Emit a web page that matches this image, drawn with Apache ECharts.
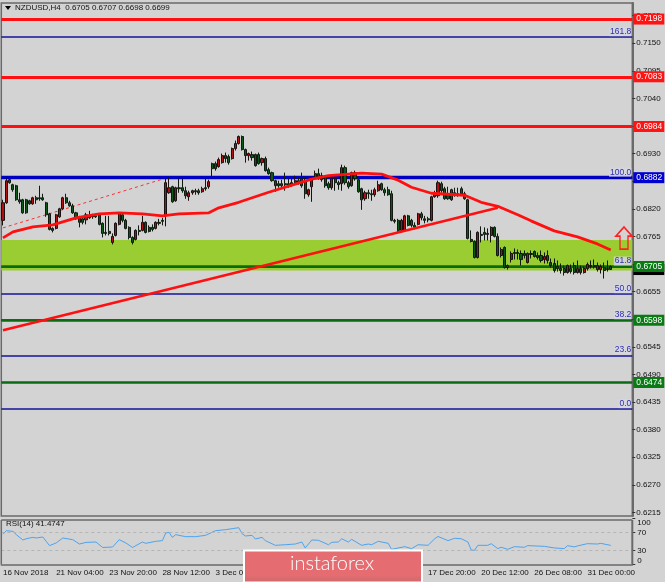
<!DOCTYPE html>
<html><head><meta charset="utf-8">
<style>html,body{margin:0;padding:0;background:#d3d3d3}#c{width:665px;height:582px}</style>
<script src="https://cdn.jsdelivr.net/npm/echarts@6/dist/echarts.min.js"></script>
</head><body><div id="c"></div>
<script>
// open, close, low, high
const candleRows=[
[.6797,.6832,.6787,.6838],[.6832,.6876,.6830,.6880],[.6878,.6872,.6870,.6880],[.6868,.6858,.6854,.6870],[.6866,.6838,.6836,.6868],[.6838,.6834,.6830,.6852],[.6838,.6812,.6810,.6840],[.6838,.6812,.6810,.6840],[.6836,.6830,.6828,.6838],[.6830,.6842,.6828,.6844],
[.6842,.6838,.6830,.6846],[.6842,.6840,.6836,.6866],[.6842,.6838,.6836,.6850],[.6832,.6808,.6804,.6834],[.6810,.6779,.6777,.6812],[.6781,.6777,.6773,.6783],[.6781,.6808,.6779,.6810],[.6804,.6820,.6802,.6822],[.6820,.6842,.6818,.6844],[.6842,.6832,.6830,.6850],
[.6832,.6826,.6824,.6836],[.6826,.6812,.6810,.6830],[.6812,.6800,.6798,.6814],[.6802,.6793,.6783,.6806],[.6800,.6793,.6789,.6802],[.6798,.6808,.6789,.6812],[.6806,.6802,.6800,.6816],[.6806,.6804,.6800,.6810],[.6806,.6804,.6802,.6810],[.6808,.6789,.6787,.6810],
[.6791,.6771,.6763,.6793],[.6773,.6771,.6767,.6806],[.6775,.6771,.6767,.6806],[.6753,.6765,.6749,.6771],[.6767,.6791,.6765,.6793],[.6789,.6810,.6787,.6812],[.6808,.6797,.6793,.6812],[.6797,.6781,.6779,.6800],[.6783,.6763,.6759,.6785],[.6763,.6753,.6749,.6765],
[.6759,.6777,.6757,.6779],[.6777,.6775,.6767,.6787],[.6777,.6793,.6775,.6806],[.6793,.6773,.6771,.6795],[.6783,.6775,.6773,.6787],[.6783,.6779,.6775,.6789],[.6781,.6793,.6779,.6795],[.6793,.6791,.6787,.6800],[.6797,.6795,.6787,.6802],[.6806,.6872,.6785,.6882],
[.6852,.6862,.6850,.6882],[.6864,.6834,.6832,.6866],[.6836,.6862,.6834,.6864],[.6862,.6860,.6852,.6880],[.6862,.6856,.6852,.6880],[.6856,.6846,.6840,.6864],[.6844,.6852,.6836,.6856],[.6852,.6856,.6848,.6858],[.6856,.6854,.6848,.6860],[.6856,.6852,.6848,.6860],
[.6854,.6860,.6852,.6864],[.6862,.6860,.6856,.6880],[.6864,.6874,.6860,.6878],[.6910,.6900,.6884,.6912],[.6910,.6900,.6896,.6914],[.6904,.6918,.6902,.6922],[.6912,.6926,.6910,.6930],[.6926,.6920,.6912,.6932],[.6924,.6912,.6908,.6928],[.6920,.6940,.6918,.6942],
[.6940,.6950,.6936,.6956],[.6950,.6964,.6948,.6966],[.6964,.6938,.6936,.6966],[.6938,.6926,.6912,.6940],[.6926,.6930,.6916,.6932],[.6928,.6922,.6916,.6934],[.6928,.6906,.6904,.6930],[.6928,.6910,.6908,.6932],[.6912,.6920,.6906,.6922],[.6920,.6896,.6894,.6924],
[.6898,.6890,.6888,.6902],[.6892,.6876,.6874,.6894],[.6876,.6866,.6854,.6878],[.6870,.6866,.6862,.6876],[.6870,.6866,.6860,.6878],[.6870,.6868,.6856,.6892],[.6870,.6866,.6862,.6880],[.6872,.6868,.6864,.6880],[.6872,.6876,.6868,.6886],[.6876,.6872,.6868,.6882],
[.6880,.6866,.6862,.6892],[.6876,.6850,.6840,.6884],[.6848,.6858,.6844,.6860],[.6864,.6882,.6834,.6884],[.6882,.6890,.6880,.6896],[.6890,.6882,.6878,.6900],[.6886,.6878,.6874,.6892],[.6882,.6866,.6862,.6886],[.6870,.6862,.6858,.6874],[.6862,.6880,.6858,.6882],
[.6880,.6872,.6856,.6882],[.6872,.6868,.6858,.6876],[.6870,.6902,.6856,.6908],[.6902,.6872,.6868,.6906],[.6872,.6864,.6860,.6876],[.6866,.6892,.6864,.6894],[.6892,.6880,.6876,.6896],[.6878,.6854,.6852,.6880],[.6860,.6838,.6818,.6862],[.6840,.6852,.6836,.6856],
[.6852,.6850,.6840,.6858],[.6850,.6848,.6836,.6858],[.6848,.6858,.6844,.6862],[.6856,.6868,.6854,.6876],[.6870,.6858,.6856,.6872],[.6858,.6852,.6846,.6862],[.6858,.6848,.6846,.6864],[.6850,.6797,.6795,.6856],[.6797,.6795,.6791,.6800],[.6797,.6777,.6771,.6800],
[.6777,.6797,.6773,.6800],[.6777,.6806,.6775,.6808],[.6806,.6787,.6785,.6808],[.6797,.6787,.6783,.6800],[.6787,.6783,.6779,.6793],[.6789,.6810,.6787,.6812],[.6810,.6802,.6797,.6814],[.6800,.6797,.6791,.6806],[.6800,.6798,.6793,.6804],[.6797,.6844,.6795,.6846],
[.6844,.6852,.6842,.6856],[.6846,.6872,.6842,.6876],[.6870,.6856,.6852,.6874],[.6860,.6840,.6838,.6864],[.6850,.6840,.6838,.6864],[.6838,.6858,.6836,.6860],[.6852,.6848,.6844,.6862],[.6850,.6848,.6844,.6862],[.6860,.6850,.6846,.6864],[.6850,.6840,.6838,.6854],
[.6838,.6761,.6759,.6840],[.6759,.6755,.6753,.6777],[.6755,.6723,.6721,.6757],[.6723,.6773,.6721,.6775],[.6769,.6767,.6753,.6785],[.6773,.6769,.6757,.6783],[.6771,.6769,.6757,.6781],[.6767,.6783,.6753,.6785],[.6783,.6765,.6763,.6785],[.6765,.6727,.6725,.6771],
[.6727,.6739,.6723,.6743],[.6743,.6703,.6701,.6745],[.6707,.6703,.6699,.6709],[.6719,.6731,.6713,.6735],[.6733,.6731,.6719,.6741],[.6733,.6731,.6719,.6739],[.6731,.6719,.6707,.6737],[.6731,.6727,.6721,.6737],[.6713,.6731,.6711,.6733],[.6731,.6729,.6721,.6737],
[.6735,.6725,.6723,.6737],[.6727,.6723,.6719,.6733],[.6727,.6717,.6713,.6737],[.6719,.6725,.6711,.6733],[.6727,.6717,.6711,.6737],[.6713,.6707,.6703,.6721],[.6711,.6697,.6693,.6721],[.6705,.6701,.6695,.6717],[.6701,.6697,.6691,.6711],[.6701,.6693,.6687,.6707],
[.6693,.6707,.6691,.6709],[.6701,.6695,.6691,.6709],[.6707,.6693,.6689,.6713],[.6693,.6701,.6691,.6717],[.6701,.6693,.6689,.6707],[.6693,.6701,.6691,.6705],[.6701,.6709,.6697,.6713],[.6707,.6705,.6701,.6717],[.6707,.6705,.6701,.6719],[.6707,.6699,.6695,.6713],
[.6699,.6705,.6691,.6709],[.6703,.6697,.6681,.6713],[.6701,.6699,.6695,.6717],[.6705,.6699,.6698,.6707]
];
const barCount=190;
const timeLabels=['16 Nov 2018','21 Nov 04:00','23 Nov 20:00','28 Nov 12:00','3 Dec 04:00','5 Dec 20:00','10 Dec 12:00','13 Dec 04:00','17 Dec 20:00','20 Dec 12:00','26 Dec 08:00','31 Dec 00:00'];
const priceTicks=[.7205,.7150,.7095,.7040,.6985,.6930,.6875,.6820,.6765,.6710,.6655,.6600,.6545,.6490,.6435,.6380,.6325,.6270,.6215];
const rsiTicks=[0,30,70,100];
const redLevels=[.7198,.7083,.6984];
const blueLevel=.6882;
const greenLevels=[.6705,.6598,.6474];
const fibLevels=[['161.8',.7162],['100.0',.6882],['61.8',.6705],['50.0',.6650],['38.2',.6598],['23.6',.6528],['0.0',.6421]];
const lastPrice=.6699;
const zoneTop=.6758, zoneBottom=.6697;
const maIdx=[0,3,9,15,22,29,35,42,48,53,62,65,71,80,89,93,98,108,114,119,123,129,139,144,149,155,159,166,173,179,183];
const maVal=[.6762,.6774,.6784,.6788,.6802,.6810,.6812,.6810,.6806,.6810,.6812,.6822,.6833,.6853,.6871,.6879,.6886,.6891,.6889,.6877,.6863,.6851,.6847,.6833,.6825,.6808,.6796,.6776,.6764,.6750,.6738];
const trendIdx=[0,149], trendVal=[.6578,.6822];
const dashIdx=[0,48], dashVal=[.6782,.6879];
const rsiIdx=[0,1,3,4,6,7,9,10,12,13,14,16,18,21,23,25,28,30,33,35,37,39,42,43,46,48,49,50,51,52,55,58,61,64,67,69,71,72,73,75,76,78,79,82,85,88,90,91,93,95,98,99,101,102,104,105,108,110,111,113,116,117,121,123,125,128,130,131,134,136,138,140,141,142,143,146,147,149,150,152,154,157,158,163,166,169,170,172,173,176,179,180,183];
const rsiVal=[66,73.5,72,64.9,53.3,56,59,57.6,59.8,50.4,41,46.8,57.6,54,44.5,48,48.9,37,38,54,46.8,37,48.9,46,50.4,51.9,68.5,70,59,64.9,60.5,60.5,63.4,73.5,75.7,77.9,80,67,62,63.4,55.5,59,51.9,41.7,43,44.5,48.9,35.9,53.3,52.6,43,48.2,48.9,56,48.9,54.7,41.7,44.5,43,50.4,46,33,38.8,34.5,43,41.7,56,61,51.9,57,56,48.9,31.5,30.8,41.7,41.7,45.3,34.5,37.4,33,38.8,37.4,41,39.5,36,34.5,41,38.2,40.4,45.3,44.5,46,41.5];

const FONT='"Liberation Sans"';
const categories=Array.from({length:barCount},(_,i)=>i%16===0?timeLabels[i/16]:'b'+i);
const pairs=(xs,ys)=>xs.map((x,i)=>[x,ys[i]]);
const tag=(v,bg)=>({yAxis:v,lineStyle:{color:'rgba(0,0,0,0)',width:0},label:{show:true,position:'end',distance:1,formatter:v.toFixed(4),color:'#fff',backgroundColor:bg,padding:[1,2,1,3],fontFamily:FONT,fontSize:8.5}});
const level=(v,c,w)=>({yAxis:v,lineStyle:{color:c,width:w,type:'solid'},label:{show:false}});
const fib=(n,v)=>({yAxis:v,lineStyle:{color:'#14149a',width:1.5,type:'solid'},label:{show:true,position:'insideEndTop',distance:1,formatter:n,color:'#2e2ea8',backgroundColor:'rgba(214,214,226,.85)',padding:[0,0,0,1],fontFamily:FONT,fontSize:8.5}});
const c=echarts.init(document.getElementById('c'),null,{renderer:'canvas'});
c.setOption({
 animation:false,backgroundColor:'#d3d3d3',
 title:{text:'NZDUSD,H4  0.6705 0.6707 0.6698 0.6699',left:15,top:4,padding:0,textStyle:{fontFamily:FONT,fontSize:8,fontWeight:'normal',color:'#111'}},
 grid:[{left:1.3,top:3,width:631,height:513,show:true,borderColor:'#6a6a6a',borderWidth:1.5,backgroundColor:'transparent'},
       {left:1.3,top:518.5,width:631,height:46}],
 xAxis:[{type:'category',gridIndex:0,data:categories,axisLine:{show:false},axisTick:{show:false},axisLabel:{show:false},splitLine:{show:false}},
        {type:'category',gridIndex:1,data:categories,axisLine:{lineStyle:{color:'#6a6a6a',width:1.5}},
         axisTick:{interval:15,alignWithLabel:true,length:3,lineStyle:{color:'#333'}},
         axisLabel:{interval:15,align:'left',margin:4,color:'#111',fontFamily:FONT,fontSize:8,showMinLabel:true,formatter:v=>v[0]==='b'?'':v},splitLine:{show:false}}],
 yAxis:[{type:'value',gridIndex:0,position:'right',min:.6208,max:.7230,scale:true,
         axisLine:{show:true,lineStyle:{color:'#6a6a6a',width:2}},splitLine:{show:false},
         axisTick:{show:true,length:3,lineStyle:{color:'#333'},customValues:priceTicks},
         axisLabel:{color:'#111',margin:4,fontFamily:FONT,fontSize:8,customValues:priceTicks,formatter:v=>v.toFixed(4)}},
        {type:'value',gridIndex:1,position:'right',min:0,max:100,
         axisLine:{show:false},splitLine:{show:false},
         axisTick:{show:true,length:3,lineStyle:{color:'#333'},customValues:rsiTicks},
         axisLabel:{color:'#111',margin:5,fontFamily:FONT,fontSize:8,customValues:rsiTicks,verticalAlignMinLabel:'bottom',verticalAlignMaxLabel:'top'}}],
 series:[
  {type:'candlestick',name:'NZDUSD',xAxisIndex:0,yAxisIndex:0,z:4,barWidth:2.6,
   data:candleRows,
   itemStyle:{color:'#b01010',color0:'#0c5a1a',borderColor:'#1a1010',borderColor0:'#101a10',borderWidth:1},
   markArea:{silent:true,z:1,itemStyle:{color:'#9acd32'},data:[[{yAxis:zoneTop},{yAxis:zoneBottom}]]}},
  {type:'line',name:'MA',xAxisIndex:0,yAxisIndex:0,z:5,data:pairs(maIdx,maVal),showSymbol:false,symbol:'none',lineStyle:{color:'#ff1010',width:2.8},
   markPoint:{silent:true,z:6,symbol:'path://M8 0 L16 9 L12 9 L12 22 L4 22 L4 9 L0 9 Z',symbolSize:[16,22],
     itemStyle:{color:'rgba(0,0,0,0)',borderColor:'#ff2020',borderWidth:1.6},label:{show:false},
     data:[{coord:[187,.67617]}]}},
  {type:'line',name:'trend',xAxisIndex:0,yAxisIndex:0,z:5,data:pairs(trendIdx,trendVal),showSymbol:false,symbol:'none',lineStyle:{color:'#ff1010',width:2.6},
   markLine:{silent:true,symbol:'none',z:3,animation:false,precision:6,data:[
     ...fibLevels.map(f=>fib(f[0],f[1])),
     ...redLevels.map(v=>level(v,'#ff0f0f',3)),
     level(blueLevel,'#0000c4',3.4),
     ...greenLevels.map(v=>level(v,'#0a6b12',2.6))
   ]}},
  {type:'line',name:'dash',xAxisIndex:0,yAxisIndex:0,z:3,clip:false,data:pairs(dashIdx,dashVal),showSymbol:false,symbol:'none',lineStyle:{color:'#ff3030',width:1,type:[3,3]},
   markLine:{silent:true,symbol:'none',z:8,animation:false,precision:6,data:[
     tag(lastPrice,'#000'),
     ...redLevels.map(v=>tag(v,'#ff1414')),
     tag(blueLevel,'#0000d0'),
     ...greenLevels.map(v=>tag(v,'#0a7a14'))
   ]}},
  {type:'line',name:'RSI',xAxisIndex:1,yAxisIndex:1,z:3,data:pairs(rsiIdx,rsiVal),showSymbol:false,symbol:'none',lineStyle:{color:'#4da3f0',width:1},
   markLine:{silent:true,symbol:'none',label:{show:false},lineStyle:{color:'#b4b4b4',width:1,type:[3,3]},data:[{yAxis:70},{yAxis:30}]}}
 ],
 graphic:[
  {type:'polygon',shape:{points:[[5,6],[11,6],[8,10]]},style:{fill:'#000'},z:10},
  {type:'line',shape:{x1:1.3,y1:520,x2:632.3,y2:520},style:{stroke:'#6a6a6a',lineWidth:1.5},z:10},
  {type:'line',shape:{x1:1.3,y1:520,x2:1.3,y2:564.5},style:{stroke:'#6a6a6a',lineWidth:1.5},z:10},
  {type:'line',shape:{x1:632.3,y1:520,x2:632.3,y2:564.5},style:{stroke:'#6a6a6a',lineWidth:2},z:10},
  {type:'text',left:6,top:520,style:{text:'RSI(14) 41.4747',fill:'#111',font:'8px '+FONT},z:10},
  {type:'rect',shape:{x:244,y:550.5,width:178,height:32},
   style:{fill:{type:'linear',x:0,y:0,x2:0,y2:1,colorStops:[{offset:0,color:'#e56d71'},{offset:.75,color:'#e56d71'},{offset:1,color:'#c9686b'}]},stroke:'#fff',lineWidth:2},z:20},
  {type:'text',left:290,top:554,style:{text:'instaforex',fill:'#fff',font:'300 20px Lato'},z:21}
 ]
});
</script></body></html>
